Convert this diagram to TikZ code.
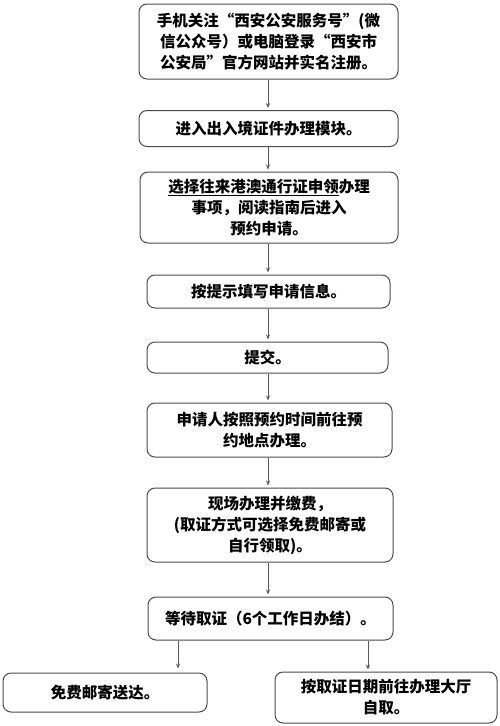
\documentclass[tikz,border=0pt]{standalone}
\usepackage{fontspec}
\setmainfont{Noto Sans CJK SC}
\usetikzlibrary{arrows.meta,calc}
\begin{document}
\begin{tikzpicture}[x=1pt,y=-1pt,
  box/.style={draw=black!70,line width=1pt,rounded corners=8pt,align=center,
    inner sep=0pt,font=\fontsize{15.5}{21}\selectfont\bfseries},
  arr/.style={draw=black!65,line width=0.8pt,-{Stealth[length=5pt,width=4pt]},shorten >=2pt}]
\useasboundingbox (0,0) rectangle (500,726);
\node[box,minimum width=259pt,minimum height=75pt] (b1) at (268.5,41.5)
  {手机关注“西安公安服务号”(微\\信公众号）或电脑登录“西安市\\公安局”官方网站并实名注册。};
\node[box,minimum width=259pt,minimum height=36pt] (b2) at (268.5,128.5)
  {进入出入境证件办理模块。};
\node[box,minimum width=258pt,minimum height=71pt] (b3) at (269,207.5)
  {\underline{选择往来港澳通行证申领}办理\\事项，阅读指南后进入\\预约申请。};
\node[box,minimum width=243pt,minimum height=33pt] (b4) at (268.5,291.5)
  {按提示填写申请信息。};
\node[box,minimum width=241pt,minimum height=31pt] (b5) at (267.5,357.5)
  {提交。};
\node[box,minimum width=245pt,minimum height=54pt] (b6) at (269.5,430)
  {申请人按照预约时间前往预\\约地点办理。};
\node[box,minimum width=246pt,minimum height=74pt] (b7) at (270,525)
  {现场办理并缴费，\\(取证方式可选择免费邮寄或\\自行领取)。};
\node[box,minimum width=245pt,minimum height=43pt] (b8) at (270.5,618.5)
  {等待取证（6个工作日办结）。};
\node[box,minimum width=204pt,minimum height=39pt] (b9) at (105,692.5)
  {免费邮寄送达。};
\node[box,minimum width=222pt,minimum height=51pt] (b10) at (386,697.5)
  {按取证日期前往办理大厅\\自取。};
\coordinate (mx) at (268,0);
\coordinate (lx) at (178,0);
\coordinate (rx) at (368,0);
\draw[arr] (mx |- b1.south) -- (mx |- b2.north);
\draw[arr] (mx |- b2.south) -- (mx |- b3.north);
\draw[arr] (mx |- b3.south) -- (mx |- b4.north);
\draw[arr] (mx |- b4.south) -- (mx |- b5.north);
\draw[arr] (mx |- b5.south) -- (mx |- b6.north);
\draw[arr] (mx |- b6.south) -- (mx |- b7.north);
\draw[arr] (mx |- b7.south) -- (mx |- b8.north);
\draw[arr,shorten >=4pt] (lx |- b8.south) -- (lx |- b9.north);
\draw[arr] (rx |- b8.south) -- (rx |- b10.north);
\end{tikzpicture}
\end{document}
